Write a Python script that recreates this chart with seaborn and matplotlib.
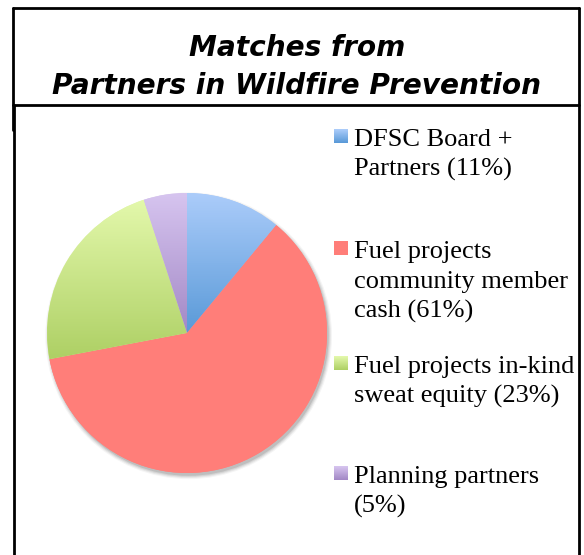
import numpy as np
import seaborn as sns
import matplotlib.pyplot as plt
from matplotlib.lines import Line2D
from matplotlib.patches import Circle

sns.set_theme(style="white")

# data
labels = ["DFSC Board +\nPartners (11%)",
          "Fuel projects\ncommunity member\ncash (61%)",
          "Fuel projects in-kind\nsweat equity (23%)",
          "Planning partners\n(5%)"]
shares = [11, 61, 23, 5]
top_colors = ["#abccfa", "#ff7e79", "#e3f8ab", "#d6c4ef"]
bottom_colors = ["#5a9ad8", "#ff7e79", "#aed065", "#a389c6"]

# layout (pixels from top-left)
W, H = 584, 555
legend_baselines = [146, 258, 373, 483]
line_step = 30

fig = plt.figure(figsize=(W / 100, H / 100), dpi=100)

# pie axes: centre ~ (187, 333) px, radius ~140 px
cx, cy, r = 187, 333, 140
pad = 8
ax = fig.add_axes([(cx - r - pad) / W, (H - cy - r - pad) / H,
                   2 * (r + pad) / W, 2 * (r + pad) / H])
wedges, _ = ax.pie(shares, startangle=90, counterclock=False,
                   colors=top_colors, wedgeprops=dict(linewidth=0, zorder=3))

# soft drop shadow under the pie
for k, a in zip(range(4), [0.10, 0.08, 0.06, 0.04]):
    ax.add_patch(Circle((0.012, -0.02), 1 + 0.008 * k, color="black",
                        alpha=a, lw=0, zorder=1))


def gradient(c0, c1, n=64):
    return np.array(sns.blend_palette([c0, c1], n_colors=n))[:, None, :]


# vertical gradient inside each wedge
for w, c0, c1 in zip(wedges, top_colors, bottom_colors):
    ext = w.get_path().get_extents()
    im = ax.imshow(gradient(c0, c1), extent=[ext.x0, ext.x1, ext.y0, ext.y1],
                   origin="upper", aspect="auto", zorder=4)
    im.set_clip_path(w)
lim = 1 + pad / r
ax.set_xlim(-lim, lim)
ax.set_ylim(-lim, lim)
ax.set_aspect("equal")
ax.axis("off")

# title
title_kw = dict(ha="center", va="baseline", fontsize=20.2, fontweight="bold",
                fontstyle="italic", family="DejaVu Sans", color="black")
fig.text(297 / W, 1 - 56 / H, "Matches from", **title_kw)
fig.text(297 / W, 1 - 94 / H, "Partners in Wildfire Prevention", **title_kw)


def line(x0, y0, x1, y1, lw=2):
    fig.add_artist(Line2D([x0 / W, x1 / W], [1 - y0 / H, 1 - y1 / H],
                          color="black", lw=lw, transform=fig.transFigure))


line(13, 8, 579, 8)
line(13, 8, 13, 130)
line(579, 8, 579, 555)
line(13, 105, 579, 105)
line(14, 105, 14, 555)

# legend: gradient swatch + serif text
for lab, base, c0, c1 in zip(labels, legend_baselines, top_colors, bottom_colors):
    sw = fig.add_axes([334 / W, 1 - (base - 3) / H, 14 / W, 14 / H])
    sw.imshow(gradient(c0, c1, 16), aspect="auto")
    sw.axis("off")
    for i, part in enumerate(lab.split("\n")):
        fig.text(354 / W, 1 - (base + i * line_step) / H, part,
                 ha="left", va="baseline", fontsize=19,
                 family="Liberation Serif", color="black")

fig.savefig("out.png", dpi=100)
